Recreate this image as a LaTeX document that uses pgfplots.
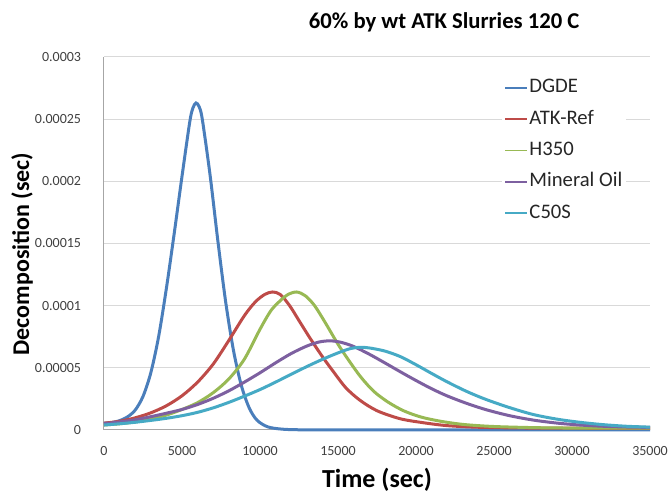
\documentclass[border=0pt]{standalone}
\usepackage{fontspec}
\setmainfont{Carlito}
\usepackage{pgfplots}
\pgfplotsset{compat=1.18}
\definecolor{sBlue}{HTML}{4A7EBB}
\definecolor{sRed}{HTML}{BE4B48}
\definecolor{sGreen}{HTML}{98B954}
\definecolor{sPurple}{HTML}{7D60A0}
\definecolor{sCyan}{HTML}{46AAC5}
\definecolor{gridgray}{HTML}{D9D9D9}
\definecolor{axisgray}{HTML}{A6A6A6}
\definecolor{ticktext}{HTML}{404040}
\definecolor{legtext}{HTML}{262626}

\begin{document}
\begin{tikzpicture}
\begin{axis}[
  scale only axis,
  width=409.5pt, height=279.75pt,
  xmin=0, xmax=35000, ymin=0, ymax=0.0003,
  xtick={0,5000,10000,15000,20000,25000,30000,35000},
  xticklabels={0,5000,10000,15000,20000,25000,30000,35000},
  ytick={0,0.00005,0.0001,0.00015,0.0002,0.00025,0.0003},
  yticklabels={0,0.00005,0.0001,0.00015,0.0002,0.00025,0.0003},
  scaled x ticks=false, scaled y ticks=false,
  axis lines=left,
  axis line style={-, draw=axisgray, line width=0.75pt},
  ymajorgrids,
  grid style={gridgray, line width=0.75pt},
  major tick length=0pt,
  tick label style={font=\fontsize{10.5}{12}\selectfont, text=ticktext},
  yticklabel style={anchor=east, inner sep=0pt, xshift=-17pt},
  xticklabel style={anchor=north, inner sep=0pt, yshift=-12pt},
  title={60\% by wt ATK Slurries 120 C},
  title style={at={(0.623,1.054)}, anchor=base, inner sep=0pt,
    font=\bfseries\fontsize{17}{20}\selectfont},
  xlabel={Time (sec)},
  xlabel style={at={(axis description cs:0.5,-0.153)}, anchor=base, inner sep=0pt,
    font=\bfseries\fontsize{19.5}{22}\selectfont},
  ylabel={Decomposition (sec)},
  ylabel style={at={(axis description cs:-0.150,0.472)}, anchor=center, inner sep=0pt,
    font=\bfseries\fontsize{18}{21}\selectfont},
  clip=false,
  legend cell align=left,
  legend image code/.code={\draw[#1, line width=1.3pt] (0pt,0pt) -- (16.5pt,0pt);},
  legend style={at={(0.728,0.955)}, anchor=north west, draw=none, fill=white,
    inner sep=2pt, row sep=7pt,
    font=\fontsize{15.5}{18}\selectfont, text=legtext,
    nodes={inner sep=1pt, text height=11pt, text depth=3.5pt}},
  every axis plot/.append style={line width=2.25pt, smooth},
]
\addplot[sBlue] coordinates {
(0,5.5e-6)(500,6e-6)(1000,7.5e-6)(1500,1.05e-5)(2000,1.6e-5)(2500,2.7e-5)(3000,4.6e-5)
(3500,7.5e-5)(4000,1.14e-4)(4500,1.58e-4)(5000,2.04e-4)(5500,2.48e-4)(5700,2.59e-4)
(5900,2.63e-4)(6100,2.6e-4)(6300,2.5e-4)(6800,2.05e-4)(7300,1.52e-4)(7800,1.03e-4)
(8300,6.4e-5)(8800,3.6e-5)(9300,1.8e-5)(9800,8e-6)(10500,2.5e-6)(11500,6e-7)
(13000,1e-7)(16000,0)(35000,0)};
\addlegendentry{DGDE}
\addplot[sRed] coordinates {
(0,5.5e-6)(1000,7.0e-6)(2000,9.8e-6)(3000,1.38e-5)(4000,1.95e-5)(5000,2.75e-5)
(6000,3.85e-5)(7000,5.3e-5)(8000,7.2e-5)(9000,9.2e-5)(9700,1.03e-4)(10300,1.09e-4)
(10800,1.11e-4)(11300,1.09e-4)(11900,1.0e-4)(12500,8.8e-5)(13200,7.4e-5)(14000,5.9e-5)
(14700,4.7e-5)(15500,3.4e-5)(16400,2.4e-5)(17500,1.55e-5)(19000,9e-6)(20500,5.8e-6)
(22000,3.5e-6)(24000,2.2e-6)(27000,1.6e-6)(31000,1.4e-6)(35000,1.4e-6)};
\addlegendentry{ATK-Ref}
\addplot[sGreen] coordinates {
(0,4.0e-6)(1000,5.0e-6)(2000,6.5e-6)(3000,8.8e-6)(4000,1.2e-5)(5000,1.65e-5)
(6000,2.2e-5)(7000,3.0e-5)(8000,4.1e-5)(9000,5.7e-5)(10000,8.1e-5)(10700,9.6e-5)
(11300,1.04e-4)(11800,1.09e-4)(12350,1.11e-4)(12900,1.08e-4)(13500,1.0e-4)(14200,8.6e-5)
(15000,6.9e-5)(15800,5.4e-5)(16500,4.2e-5)(17300,3.1e-5)(18200,2.25e-5)(19200,1.55e-5)
(20300,1.05e-5)(21500,7.2e-6)(23000,4.5e-6)(25000,2.8e-6)(28000,1.8e-6)(31000,1.5e-6)
(35000,1.5e-6)};
\addlegendentry{H350}
\addplot[sPurple] coordinates {
(0,5.0e-6)(1000,6.5e-6)(2000,8.2e-6)(3000,1.07e-5)(4000,1.35e-5)(5000,1.65e-5)
(6000,2.05e-5)(7000,2.55e-5)(8000,3.15e-5)(9000,3.85e-5)(10000,4.6e-5)(11000,5.4e-5)
(12000,6.15e-5)(13000,6.75e-5)(13800,7.08e-5)(14500,7.17e-5)(15200,7.05e-5)(16000,6.72e-5)
(17000,6.1e-5)(18000,5.4e-5)(19000,4.68e-5)(20000,3.98e-5)(21000,3.32e-5)(22000,2.74e-5)
(23250,2.14e-5)(24500,1.63e-5)(26000,1.15e-5)(27500,8.0e-6)(29000,5.6e-6)(30500,4.0e-6)
(32000,3.0e-6)(33500,2.4e-6)(35000,2.1e-6)};
\addlegendentry{Mineral Oil}
\addplot[sCyan] coordinates {
(0,4.0e-6)(1000,5.0e-6)(2000,6.2e-6)(3000,7.7e-6)(4000,9.4e-6)(5000,1.15e-5)
(6000,1.42e-5)(7000,1.78e-5)(8000,2.22e-5)(9000,2.72e-5)(10000,3.25e-5)(11000,3.85e-5)
(12000,4.48e-5)(13000,5.1e-5)(14000,5.68e-5)(15000,6.2e-5)(15800,6.55e-5)(16400,6.65e-5)
(17000,6.6e-5)(18000,6.35e-5)(19000,5.9e-5)(20000,5.25e-5)(21000,4.55e-5)(22000,3.87e-5)
(23250,3.1e-5)(24500,2.45e-5)(26000,1.8e-5)(27500,1.25e-5)(29000,8.8e-6)(30500,6.2e-6)
(32000,4.3e-6)(33500,3.0e-6)(35000,2.3e-6)};
\addlegendentry{C50S}
\coordinate (ll) at (rel axis cs:0,0);
\coordinate (ur) at (rel axis cs:1,1);
\end{axis}
\pgfresetboundingbox
\path[use as bounding box] ([shift={(-78pt,-48pt)}]ll) rectangle ([shift={(13.5pt,42.75pt)}]ur);
\end{tikzpicture}
\end{document}
